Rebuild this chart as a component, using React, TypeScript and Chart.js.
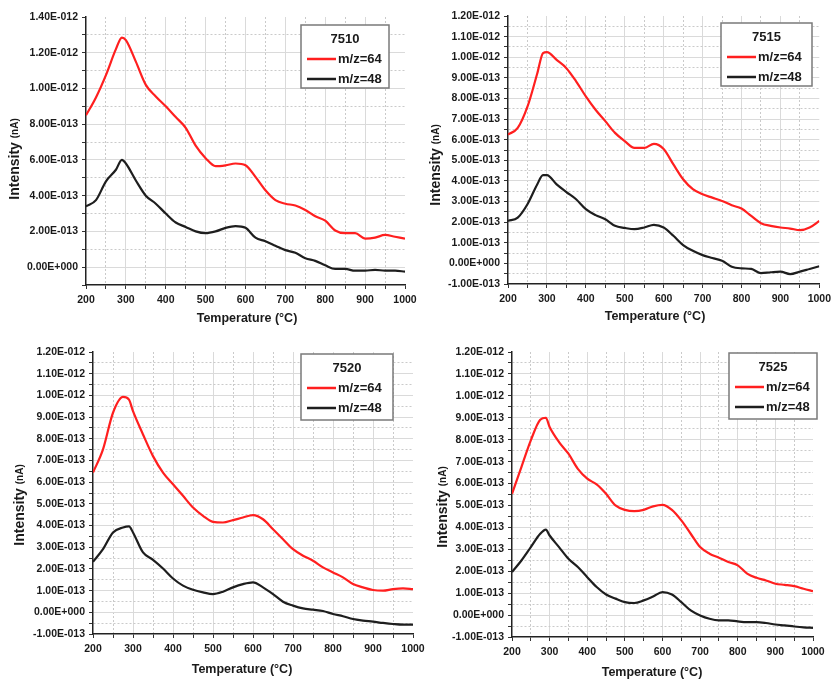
import React, { useEffect, useRef } from 'react';
import { Chart, registerables } from 'chart.js';

Chart.register(...registerables);

// ---------------- data ----------------
const TEMPS = [200, 225, 250, 275, 290, 300, 325, 350, 375, 400, 425, 450, 475, 500, 525, 550, 575, 600, 625, 650, 675, 700, 725, 750, 775, 800, 825, 850, 875, 900, 925, 950, 975, 1000];

const SERIES_LABELS = ['m/z=64', 'm/z=48'];
const PANEL_TITLES = ['7510', '7515', '7520', '7525'];

const MZ64_7510 = [8.5e-13, 9.5e-13, 10.75e-13, 12.2e-13, 12.85e-13, 12.7e-13, 11.5e-13, 10.2e-13, 9.55e-13, 9.0e-13, 8.4e-13, 7.8e-13, 6.8e-13, 6.1e-13, 5.65e-13, 5.7e-13, 5.8e-13, 5.7e-13, 5.05e-13, 4.3e-13, 3.75e-13, 3.55e-13, 3.45e-13, 3.2e-13, 2.85e-13, 2.6e-13, 2.05e-13, 1.9e-13, 1.9e-13, 1.6e-13, 1.65e-13, 1.8e-13, 1.7e-13, 1.6e-13];
const MZ48_7510 = [3.4e-13, 3.75e-13, 4.8e-13, 5.45e-13, 6.0e-13, 5.8e-13, 4.85e-13, 4.0e-13, 3.55e-13, 3.0e-13, 2.5e-13, 2.25e-13, 2.0e-13, 1.9e-13, 2.0e-13, 2.2e-13, 2.3e-13, 2.2e-13, 1.65e-13, 1.45e-13, 1.2e-13, 0.95e-13, 0.8e-13, 0.5e-13, 0.35e-13, 0.1e-13, -0.1e-13, -0.1e-13, -0.2e-13, -0.2e-13, -0.15e-13, -0.2e-13, -0.2e-13, -0.25e-13];

const MZ64_7515 = [6.25e-13, 6.57e-13, 7.6e-13, 9.2e-13, 10.2e-13, 10.25e-13, 9.87e-13, 9.47e-13, 8.83e-13, 8.1e-13, 7.45e-13, 6.9e-13, 6.33e-13, 5.93e-13, 5.6e-13, 5.6e-13, 5.8e-13, 5.55e-13, 4.8e-13, 4.08e-13, 3.6e-13, 3.35e-13, 3.19e-13, 3.03e-13, 2.82e-13, 2.66e-13, 2.3e-13, 1.95e-13, 1.82e-13, 1.74e-13, 1.69e-13, 1.61e-13, 1.74e-13, 2.06e-13];
const MZ48_7515 = [2.06e-13, 2.22e-13, 2.87e-13, 3.83e-13, 4.28e-13, 4.28e-13, 3.83e-13, 3.46e-13, 3.11e-13, 2.63e-13, 2.34e-13, 2.14e-13, 1.82e-13, 1.72e-13, 1.66e-13, 1.74e-13, 1.87e-13, 1.74e-13, 1.34e-13, 0.89e-13, 0.61e-13, 0.4e-13, 0.26e-13, 0.13e-13, -0.16e-13, -0.24e-13, -0.27e-13, -0.47e-13, -0.43e-13, -0.4e-13, -0.52e-13, -0.4e-13, -0.27e-13, -0.14e-13];

const MZ64_7520 = [6.44e-13, 7.51e-13, 9.2e-13, 9.93e-13, 9.8e-13, 9.27e-13, 8.2e-13, 7.2e-13, 6.44e-13, 5.9e-13, 5.37e-13, 4.83e-13, 4.45e-13, 4.17e-13, 4.14e-13, 4.25e-13, 4.37e-13, 4.48e-13, 4.29e-13, 3.83e-13, 3.37e-13, 2.91e-13, 2.61e-13, 2.38e-13, 2.07e-13, 1.84e-13, 1.61e-13, 1.3e-13, 1.15e-13, 1.03e-13, 1.0e-13, 1.07e-13, 1.1e-13, 1.07e-13];
const MZ48_7520 = [2.33e-13, 2.91e-13, 3.68e-13, 3.91e-13, 3.96e-13, 3.68e-13, 2.76e-13, 2.42e-13, 2.02e-13, 1.56e-13, 1.23e-13, 1.04e-13, 0.92e-13, 0.84e-13, 0.95e-13, 1.15e-13, 1.3e-13, 1.38e-13, 1.15e-13, 0.84e-13, 0.49e-13, 0.31e-13, 0.18e-13, 0.12e-13, 0.06e-13, -0.08e-13, -0.18e-13, -0.31e-13, -0.38e-13, -0.43e-13, -0.49e-13, -0.54e-13, -0.57e-13, -0.57e-13];

const MZ64_7525 = [5.53e-13, 6.75e-13, 7.97e-13, 8.91e-13, 9.0e-13, 8.58e-13, 7.89e-13, 7.36e-13, 6.67e-13, 6.22e-13, 5.96e-13, 5.53e-13, 5.0e-13, 4.8e-13, 4.74e-13, 4.8e-13, 4.96e-13, 5.03e-13, 4.8e-13, 4.32e-13, 3.71e-13, 3.1e-13, 2.8e-13, 2.62e-13, 2.42e-13, 2.27e-13, 1.89e-13, 1.7e-13, 1.58e-13, 1.43e-13, 1.38e-13, 1.32e-13, 1.2e-13, 1.09e-13];
const MZ48_7525 = [1.96e-13, 2.49e-13, 3.1e-13, 3.71e-13, 3.9e-13, 3.63e-13, 3.1e-13, 2.57e-13, 2.19e-13, 1.73e-13, 1.28e-13, 0.94e-13, 0.75e-13, 0.59e-13, 0.55e-13, 0.67e-13, 0.85e-13, 1.05e-13, 0.94e-13, 0.59e-13, 0.21e-13, -0.02e-13, -0.17e-13, -0.24e-13, -0.24e-13, -0.29e-13, -0.32e-13, -0.32e-13, -0.36e-13, -0.43e-13, -0.47e-13, -0.52e-13, -0.56e-13, -0.58e-13];

// tick values
const X_MAJOR = [200, 300, 400, 500, 600, 700, 800, 900, 1000];
const X_MINOR = [250, 350, 450, 550, 650, 750, 850, 950];

const Y_MAJOR_A = [0, 2e-13, 4e-13, 6e-13, 8e-13, 10e-13, 12e-13, 14e-13];
const Y_MINOR_A = [-1e-13, 1e-13, 3e-13, 5e-13, 7e-13, 9e-13, 11e-13, 13e-13];

const Y_MAJOR_B = [-1e-13, 0, 1e-13, 2e-13, 3e-13, 4e-13, 5e-13, 6e-13, 7e-13, 8e-13, 9e-13, 10e-13, 11e-13, 12e-13];
const Y_MINOR_B = [-0.5e-13, 0.5e-13, 1.5e-13, 2.5e-13, 3.5e-13, 4.5e-13, 5.5e-13, 6.5e-13, 7.5e-13, 8.5e-13, 9.5e-13, 10.5e-13, 11.5e-13];

const RED = '#ff1f1f';
const BLACK = '#1e1e1e';

// ---------------- layout (styles) ----------------
const W = 836;
const H = 682;
const Y_AXIS_W = 60;
const X_AXIS_H = 25;
const FONT = "'Liberation Sans', Arial, Helvetica, sans-serif";

type Panel = {
  title: string;
  red: number[];
  black: number[];
  yMin: number;
  yMax: number;
  yMajor: number[];
  yMinor: number[];
  plot: { l: number; t: number; r: number; b: number };
  xTitle: { x: number; y: number };
  yTitle: { x: number; y: number };
  legend: { x: number; y: number; w: number; h: number };
};

const PANELS: Panel[] = [
  {
    title: PANEL_TITLES[0], red: MZ64_7510, black: MZ48_7510,
    yMin: -1e-13, yMax: 14e-13, yMajor: Y_MAJOR_A, yMinor: Y_MINOR_A,
    plot: { l: 86, t: 17, r: 405, b: 285 },
    xTitle: { x: 247, y: 319 }, yTitle: { x: 15, y: 159 },
    legend: { x: 301, y: 25, w: 88, h: 63 },
  },
  {
    title: PANEL_TITLES[1], red: MZ64_7515, black: MZ48_7515,
    yMin: -1e-13, yMax: 12e-13, yMajor: Y_MAJOR_B, yMinor: Y_MINOR_B,
    plot: { l: 508, t: 16, r: 823, b: 284 },
    xTitle: { x: 655, y: 317 }, yTitle: { x: 436, y: 165 },
    legend: { x: 721, y: 23, w: 91, h: 63 },
  },
  {
    title: PANEL_TITLES[2], red: MZ64_7520, black: MZ48_7520,
    yMin: -1e-13, yMax: 12e-13, yMajor: Y_MAJOR_B, yMinor: Y_MINOR_B,
    plot: { l: 93, t: 352, r: 413, b: 634 },
    xTitle: { x: 242, y: 670 }, yTitle: { x: 20, y: 505 },
    legend: { x: 301, y: 354, w: 92, h: 66 },
  },
  {
    title: PANEL_TITLES[3], red: MZ64_7525, black: MZ48_7525,
    yMin: -1e-13, yMax: 12e-13, yMajor: Y_MAJOR_B, yMinor: Y_MINOR_B,
    plot: { l: 512, t: 352, r: 813, b: 637 },
    xTitle: { x: 652, y: 673 }, yTitle: { x: 443, y: 507 },
    legend: { x: 729, y: 353, w: 88, h: 66 },
  },
];

function fmtSci(v: number): string {
  const s = v.toExponential(2); // e.g. 1.20e-12
  const [mant, exp] = s.split('e');
  const e = parseInt(exp, 10);
  return mant + 'E' + (e < 0 ? '-' : '+') + String(Math.abs(e)).padStart(3, '0');
}

function near(a: number, b: number) {
  return Math.abs(a - b) <= Math.max(Math.abs(a), Math.abs(b)) * 1e-6 + 1e-30;
}

function makeTicks(major: number[], minor: number[]) {
  return [
    ...major.map((v) => ({ value: v, minor: false })),
    ...minor.map((v) => ({ value: v, minor: true })),
  ].sort((a, b) => a.value - b.value);
}

function gridColor(ctx: any) {
  const t = ctx.tick;
  if (!t) return 'rgba(0,0,0,0)';
  const sc = ctx.scale;
  if (near(t.value, sc.max) || near(t.value, sc.min)) return 'rgba(0,0,0,0)';
  return t.minor ? '#cacaca' : '#dadada';
}

function gridDash(ctx: any) {
  return ctx.tick && ctx.tick.minor ? [2, 2] : [];
}

function decorPlugin(p: Panel) {
  return {
    id: 'panelDecor',
    afterDraw(chart: any) {
      const ctx = chart.ctx as CanvasRenderingContext2D;
      ctx.save();
      ctx.fillStyle = '#1a1a1a';
      // x title
      ctx.font = `bold 12.5px ${FONT}`;
      ctx.textAlign = 'center';
      ctx.textBaseline = 'middle';
      ctx.fillText('Temperature (°C)', p.xTitle.x, p.xTitle.y);
      // y title (mixed sizes)
      ctx.save();
      ctx.translate(p.yTitle.x, p.yTitle.y);
      ctx.rotate(-Math.PI / 2);
      ctx.textAlign = 'left';
      ctx.font = `bold 14px ${FONT}`;
      const part1 = 'Intensity ';
      const w1 = ctx.measureText(part1).width;
      ctx.font = `bold 10px ${FONT}`;
      const part2 = '(nA)';
      const w2 = ctx.measureText(part2).width;
      const start = -(w1 + w2) / 2;
      ctx.font = `bold 14px ${FONT}`;
      ctx.fillText(part1, start, 0);
      ctx.font = `bold 10px ${FONT}`;
      ctx.fillText(part2, start + w1, 0);
      ctx.restore();
      // legend box
      const L = p.legend;
      ctx.fillStyle = '#ffffff';
      ctx.fillRect(L.x, L.y, L.w, L.h);
      ctx.strokeStyle = '#7a7a7a';
      ctx.lineWidth = 1.5;
      ctx.strokeRect(L.x, L.y, L.w, L.h);
      ctx.fillStyle = '#1a1a1a';
      ctx.font = `bold 13px ${FONT}`;
      ctx.textAlign = 'center';
      ctx.fillText(p.title, L.x + L.w / 2, L.y + 14);
      chart.data.datasets.forEach((ds: any, i: number) => {
        const yy = L.y + 34 + 20 * i;
        ctx.strokeStyle = ds.borderColor;
        ctx.lineWidth = 2.5;
        ctx.beginPath();
        ctx.moveTo(L.x + 6, yy);
        ctx.lineTo(L.x + 35, yy);
        ctx.stroke();
        ctx.fillStyle = '#1a1a1a';
        ctx.textAlign = 'left';
        ctx.fillText(ds.label, L.x + 37, yy);
      });
      ctx.restore();
    },
  };
}

function PanelChart({ panel }: { panel: Panel }) {
  const ref = useRef<HTMLCanvasElement | null>(null);
  useEffect(() => {
    if (!ref.current) return;
    const p = panel;
    const xTicks = makeTicks(X_MAJOR, X_MINOR);
    const yTicks = makeTicks(p.yMajor, p.yMinor);
    const tickFont = { family: FONT, size: 10.5, weight: 'bold' as const };
    const chart = new Chart(ref.current, {
      type: 'line',
      data: {
        datasets: [
          {
            label: SERIES_LABELS[0],
            data: TEMPS.map((t, i) => ({ x: t, y: p.red[i] })),
            borderColor: RED,
            borderWidth: 2.2,
            pointRadius: 0,
            cubicInterpolationMode: 'monotone',
            fill: false,
          },
          {
            label: SERIES_LABELS[1],
            data: TEMPS.map((t, i) => ({ x: t, y: p.black[i] })),
            borderColor: BLACK,
            borderWidth: 2.2,
            pointRadius: 0,
            cubicInterpolationMode: 'monotone',
            fill: false,
          },
        ],
      },
      options: {
        responsive: false,
        maintainAspectRatio: false,
        animation: false,
        devicePixelRatio: 1,
        events: [],
        layout: {
          padding: {
            left: p.plot.l - Y_AXIS_W,
            top: p.plot.t,
            right: W - p.plot.r,
            bottom: H - p.plot.b - X_AXIS_H,
          },
        },
        plugins: {
          legend: { display: false },
          tooltip: { enabled: false },
          title: { display: false },
        },
        scales: {
          x: {
            type: 'linear',
            min: 200,
            max: 1000,
            afterBuildTicks: (scale: any) => { scale.ticks = xTicks.map((t) => ({ ...t })); },
            afterFit: (scale: any) => { scale.height = X_AXIS_H; },
            ticks: {
              autoSkip: false,
              maxRotation: 0,
              padding: 5,
              color: '#1a1a1a',
              font: tickFont,
              callback: function (value: any, index: number, ticks: any[]) {
                return ticks[index] && ticks[index].minor ? '' : String(value);
              },
            },
            grid: {
              color: gridColor,
              lineWidth: 1,
              tickLength: 4,
              tickColor: '#333333',
              tickWidth: 1,
            },
            border: { display: true, color: '#222222', width: 1.5, dash: gridDash },
          },
          y: {
            type: 'linear',
            min: p.yMin,
            max: p.yMax,
            afterBuildTicks: (scale: any) => { scale.ticks = yTicks.map((t) => ({ ...t })); },
            afterFit: (scale: any) => { scale.width = Y_AXIS_W; },
            ticks: {
              autoSkip: false,
              padding: 4,
              color: '#1a1a1a',
              font: tickFont,
              callback: function (value: any, index: number, ticks: any[]) {
                return ticks[index] && ticks[index].minor ? '' : fmtSci(Number(value));
              },
            },
            grid: {
              color: gridColor,
              lineWidth: 1,
              tickLength: 4,
              tickColor: '#333333',
              tickWidth: 1,
            },
            border: { display: true, color: '#222222', width: 1.5, dash: gridDash },
          },
        },
      } as any,
      plugins: [decorPlugin(p)],
    });
    return () => chart.destroy();
  }, [panel]);
  return (
    <canvas
      ref={ref}
      width={W}
      height={H}
      style={{ position: 'absolute', left: 0, top: 0, width: W, height: H }}
    />
  );
}

export default function App() {
  return (
    <div style={{ position: 'fixed', left: 0, top: 0, width: W, height: H, background: '#ffffff', overflow: 'hidden' }}>
      {PANELS.map((p) => (
        <PanelChart key={p.title} panel={p} />
      ))}
    </div>
  );
}
